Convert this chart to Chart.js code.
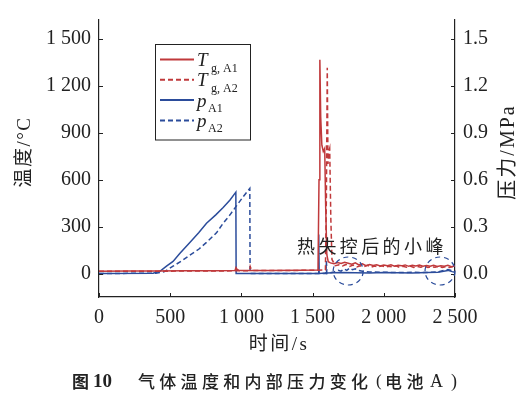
<!DOCTYPE html>
<html>
<head>
<meta charset="utf-8">
<script src="https://cdn.jsdelivr.net/npm/chart.js@4.4.1/dist/chart.umd.min.js"></script>
<style>
  html, body { margin: 0; padding: 0; background: #fff; }
  canvas { display: block; }
</style>
</head>
<body>
<canvas id="chart" width="526" height="394"></canvas>
<script>
// tick values
const timeTicks = [0, 500, 1000, 1500, 2000, 2500];
const tempTicks = [0, 300, 600, 900, 1200, 1500];
const pressTicks = [0, 0.3, 0.6, 0.9, 1.2, 1.5];

// gas temperature, battery A1 (s, °C)
const timeTA1 = [0, 200, 400, 600, 800, 955, 962, 968, 980, 1000, 1200, 1400, 1538, 1545, 1551, 1557, 1565, 1575, 1585, 1592,
  1600, 1610, 1625, 1650, 1675, 1700, 1725, 1750, 1775, 1800, 1825, 1850, 1875, 1900, 1925, 1950, 1975, 2000, 2025, 2050,
  2075, 2100, 2125, 2150, 2175, 2200, 2225, 2250, 2275, 2300, 2325, 2350, 2375, 2400, 2425, 2450, 2475, 2500];
const tempA1 = [15, 16, 16, 17, 18, 19, 38, 28, 21, 20, 20, 21, 22, 600, 1366, 1000, 820, 780, 800, 420,
  120, 75, 68, 62, 70, 64, 72, 66, 60, 68, 55, 62, 50, 58, 52, 56, 48, 54, 50, 56,
  47, 53, 49, 55, 46, 52, 48, 54, 47, 51, 46, 52, 45, 50, 47, 52, 44, 48];

// gas temperature, battery A2
const timeTA2 = [0, 400, 800, 1050, 1058, 1062, 1068, 1080, 1400, 1590, 1597, 1603, 1608, 1614, 1620, 1628, 1636, 1660, 1685, 1710,
  1735, 1760, 1785, 1810, 1835, 1860, 1885, 1910, 1935, 1960, 1985, 2010, 2035, 2060, 2085, 2110, 2135, 2160, 2185, 2210,
  2235, 2260, 2285, 2310, 2335, 2360, 2385, 2410, 2435, 2460, 2485, 2500];
const tempA2 = [14, 15, 16, 18, 20, 45, 30, 20, 20, 22, 500, 1315, 700, 780, 800, 350, 90, 50, 56, 48,
  58, 45, 54, 42, 50, 44, 52, 40, 48, 43, 50, 41, 47, 42, 49, 40, 46, 41, 48, 39,
  45, 40, 47, 39, 44, 40, 46, 38, 44, 39, 45, 40];

// internal pressure, battery A1 (s, MPa)
const timePA1 = [0, 380, 430, 474, 520, 567, 638, 700, 755, 820, 872, 920, 961, 963, 1540,
  1543, 1546, 1600, 1700, 1800, 1900, 2000, 2100, 2200, 2300, 2380, 2420, 2450, 2480, 2500];
const pressA1 = [0, 0.002, 0.015, 0.047, 0.077, 0.128, 0.199, 0.26, 0.321, 0.375, 0.422, 0.47, 0.52, 0, 0,
  0.25, 0, 0.004, 0.006, 0.005, 0.004, 0.006, 0.005, 0.004, 0.006, 0.008, 0.015, 0.02, 0.012, 0.008];

// internal pressure, battery A2
const timePA2 = [0, 400, 460, 520, 580, 638, 700, 755, 825, 872, 920, 965, 1012, 1059, 1061, 1594, 1597, 1600, 1650, 1680,
  1700, 1720, 1740, 1760, 1780, 1800, 1820, 1850, 1900, 2000, 2100, 2200, 2300, 2380, 2420, 2450, 2480, 2500];
const pressA2 = [0, 0.002, 0.012, 0.047, 0.08, 0.118, 0.155, 0.199, 0.26, 0.321, 0.375, 0.432, 0.49, 0.544, 0, 0, 0.08, 0, 0.01, 0.02,
  0.015, 0.03, 0.02, 0.035, 0.025, 0.03, 0.02, 0.015, 0.01, 0.008, 0.006, 0.008, 0.006, 0.01, 0.02, 0.025, 0.018, 0.01];

const legendSymbols = ['T', 'T', 'p', 'p'];
const legendSubs = ['g, A1', 'g, A2', 'A1', 'A2'];

// the two "small peaks" marked with dashed circles
const peakTimes = [1750, 2395];
const peakLevel = 0.016;

const RED = '#c0393b';
const BLUE = '#2b4c9b';
const INK = '#222';
const SERIF = '"Liberation Serif", "Noto Sans CJK SC", serif';
const CJK = '"Noto Sans CJK SC", sans-serif';

const pts = (xs, ys) => xs.map((x, i) => ({ x, y: ys[i] }));

function fmtThousands(v) {
  if (v >= 1000) return Math.floor(v / 1000) + ' ' + String(v % 1000).padStart(3, '0');
  return String(v);
}

function rotatedText(ctx, text, x, y) {
  ctx.save();
  ctx.translate(x, y);
  ctx.rotate(-Math.PI / 2);
  ctx.fillText(text, 0, 0);
  ctx.restore();
}

const decor = {
  id: 'decor',
  afterDraw(chart) {
    const { ctx, chartArea: a, scales } = chart;
    const xs = scales.x, ys = scales.y, ys2 = scales.y2;
    ctx.save();

    // inward tick marks
    ctx.strokeStyle = INK;
    ctx.lineWidth = 1;
    ctx.beginPath();
    timeTicks.forEach(t => {
      const px = Math.round(xs.getPixelForValue(t)) + 0.5;
      ctx.moveTo(px, a.bottom); ctx.lineTo(px, a.bottom - 4);
    });
    tempTicks.forEach(v => {
      const py = Math.round(ys.getPixelForValue(v)) + 0.5;
      ctx.moveTo(a.left, py); ctx.lineTo(a.left + 4, py);
    });
    pressTicks.forEach(v => {
      const py = Math.round(ys2.getPixelForValue(v)) + 0.5;
      ctx.moveTo(a.right, py); ctx.lineTo(a.right - 4, py);
    });
    ctx.stroke();

    // dashed circles round the small peaks
    ctx.strokeStyle = BLUE;
    ctx.lineWidth = 1.2;
    ctx.setLineDash([5, 4]);
    peakTimes.forEach(t => {
      const cx = xs.getPixelForValue(t);
      const cy = ys2.getPixelForValue(peakLevel);
      ctx.beginPath();
      ctx.ellipse(cx, cy, 15, 14, 0, 0, Math.PI * 2);
      ctx.stroke();
    });
    ctx.setLineDash([]);

    // annotation text
    ctx.fillStyle = INK;
    ctx.textBaseline = 'middle';
    ctx.textAlign = 'left';
    ctx.font = '18px ' + CJK;
    ctx.letterSpacing = '3.4px';
    ctx.fillText('热失控后的小峰', 297, 246);
    ctx.letterSpacing = '0px';

    // legend
    ctx.strokeStyle = INK;
    ctx.lineWidth = 1;
    ctx.strokeRect(155.5, 44.5, 95, 95.5);
    chart.data.datasets.forEach((ds, i) => {
      const ly = 59.5 + i * 20.3;
      ctx.strokeStyle = ds.borderColor;
      ctx.lineWidth = 2;
      ctx.setLineDash(ds.borderDash || []);
      ctx.beginPath();
      ctx.moveTo(160, ly); ctx.lineTo(194, ly);
      ctx.stroke();
      ctx.setLineDash([]);
      ctx.fillStyle = INK;
      ctx.textBaseline = 'alphabetic';
      ctx.font = 'italic 19px "Liberation Serif", serif';
      const isT = legendSymbols[i] === 'T';
      ctx.fillText(legendSymbols[i], 197, ly + (isT ? 6 : 7));
      ctx.font = '12px "Liberation Serif", serif';
      ctx.fillText(legendSubs[i], isT ? 211 : 208, ly + (isT ? 12 : 11.5));
    });

    // axis titles
    ctx.fillStyle = INK;
    ctx.textAlign = 'center';
    ctx.textBaseline = 'middle';
    ctx.font = '19px ' + SERIF;
    ctx.letterSpacing = '1.5px';
    rotatedText(ctx, '温度/°C', 25, 152);
    ctx.font = '20px ' + SERIF;
    ctx.letterSpacing = '2px';
    rotatedText(ctx, '压力/MPa', 509, 152);
    ctx.font = '19px ' + SERIF;
    ctx.letterSpacing = '2.5px';
    ctx.fillText('时间/s', 279, 345);
    ctx.letterSpacing = '0px';

    // caption
    ctx.textAlign = 'left';
    ctx.font = 'bold 17px ' + CJK;
    ctx.fillText('图', 72, 382);
    ctx.font = 'bold 19px "Liberation Serif", serif';
    ctx.fillText('10', 93, 382);
    ctx.font = '500 17px ' + CJK;
    ctx.letterSpacing = '4.3px';
    ctx.fillText('气体温度和内部压力变化', 138, 382);
    ctx.letterSpacing = '0px';
    ctx.font = '17px ' + SERIF;
    ctx.fillText('(', 376, 382);
    ctx.font = '500 17px ' + CJK;
    ctx.letterSpacing = '4.5px';
    ctx.fillText('电池', 385, 382);
    ctx.letterSpacing = '0px';
    ctx.font = '18px "Liberation Serif", serif';
    ctx.fillText('A', 430, 382);
    ctx.fillText(')', 451, 382);

    ctx.restore();
  }
};

const axisBorder = { display: true, color: INK, width: 1.2 };
const noGrid = { display: false, drawTicks: false };
const tickFont = { family: '"Liberation Serif", serif', size: 20 };

new Chart(document.getElementById('chart'), {
  type: 'line',
  data: {
    datasets: [
      { label: 'T g,A1', data: pts(timeTA1, tempA1), yAxisID: 'y', borderColor: RED, borderWidth: 1.5 },
      { label: 'T g,A2', data: pts(timeTA2, tempA2), yAxisID: 'y', borderColor: RED, borderWidth: 1.5, borderDash: [5, 3] },
      { label: 'p A1', data: pts(timePA1, pressA1), yAxisID: 'y2', borderColor: BLUE, borderWidth: 1.5 },
      { label: 'p A2', data: pts(timePA2, pressA2), yAxisID: 'y2', borderColor: BLUE, borderWidth: 1.5, borderDash: [5, 3] }
    ]
  },
  options: {
    responsive: false,
    devicePixelRatio: 1,
    animation: false,
    layout: { padding: { top: 7, left: 0, right: 0, bottom: 0 } },
    elements: { point: { radius: 0 }, line: { tension: 0 } },
    plugins: { legend: { display: false }, tooltip: { enabled: false } },
    scales: {
      x: {
        type: 'linear', min: 0, max: 2500,
        grid: noGrid, border: axisBorder,
        afterBuildTicks: s => { s.ticks = timeTicks.map(value => ({ value })); },
        afterFit: s => { s.height = 97; },
        ticks: { font: tickFont, color: INK, padding: 9, maxRotation: 0, callback: v => fmtThousands(v) }
      },
      y: {
        type: 'linear', position: 'left', min: -150, max: 1620,
        grid: noGrid, border: axisBorder,
        afterBuildTicks: s => { s.ticks = tempTicks.map(value => ({ value })); },
        afterFit: s => { s.width = 99; },
        ticks: { font: tickFont, color: INK, padding: 8, callback: v => fmtThousands(v) }
      },
      y2: {
        type: 'linear', position: 'right', min: -0.15, max: 1.62,
        grid: noGrid, border: axisBorder,
        afterBuildTicks: s => { s.ticks = pressTicks.map(value => ({ value })); },
        afterFit: s => { s.width = 71; },
        ticks: { font: tickFont, color: INK, padding: 8, callback: v => v.toFixed(1) }
      }
    }
  },
  plugins: [decor]
});
</script>
</body>
</html>
